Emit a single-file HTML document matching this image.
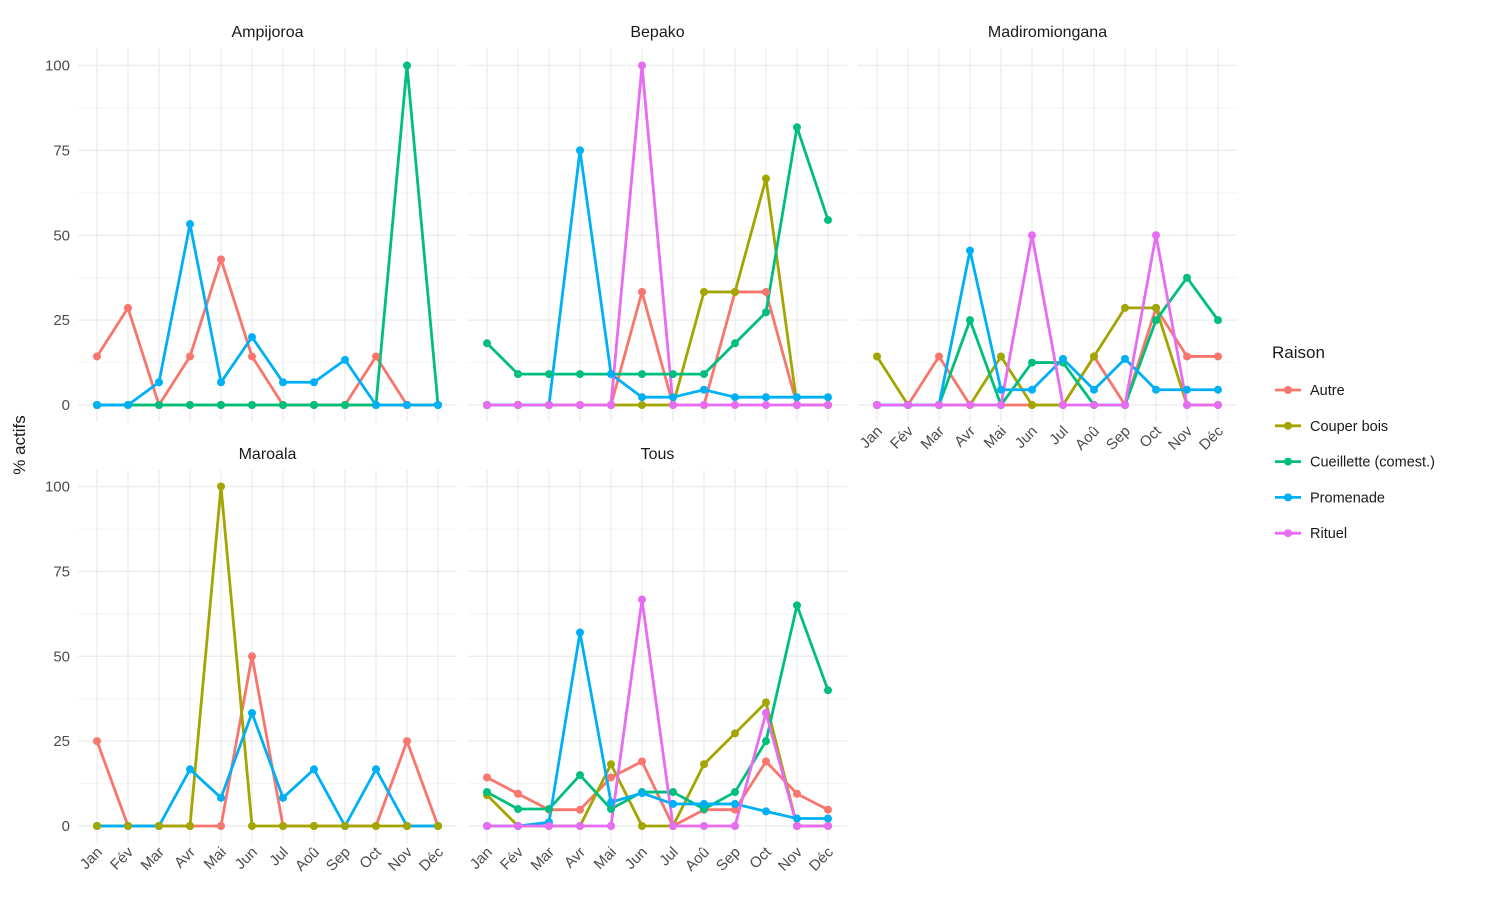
<!DOCTYPE html>
<html><head><meta charset="utf-8"><style>
body{margin:0;background:#fff;font-family:"Liberation Sans",Arial,sans-serif}
svg text{font-family:"Liberation Sans",Arial,sans-serif}
</style></head><body>
<svg id="c" width="1500" height="900" xmlns="http://www.w3.org/2000/svg"></svg>
<script>
const months=["Jan","Fév","Mar","Avr","Mai","Jun","Jul","Aoû","Sep","Oct","Nov","Déc"];
const seriesNames=["Autre","Couper bois","Cueillette (comest.)","Promenade","Rituel"];
const colors=["#F8766D","#A3A500","#00BF7D","#00B0F6","#E76BF3"];
const yTicks=[0,25,50,75,100];
const panelNames=["Ampijoroa","Bepako","Madiromiongana","Maroala","Tous"];
const ampAutre=[14.3,28.6,0,14.3,42.9,14.3,0,0,0,14.3,0,0];
const ampCouper=[0,0,0,0,0,0,0,0,0,0,0,0];
const ampCueil=[0,0,0,0,0,0,0,0,0,0,100,0];
const ampProm=[0,0,6.7,53.3,6.7,20,6.7,6.7,13.3,0,0,0];
const bepAutre=[0,0,0,0,0,33.3,0,0,33.3,33.3,0,0];
const bepCouper=[0,0,0,0,0,0,0,33.3,33.3,66.7,0,0];
const bepCueil=[18.2,9.1,9.1,9.1,9.1,9.1,9.1,9.1,18.2,27.3,81.8,54.5];
const bepProm=[0,0,0,75,9.1,2.3,2.3,4.5,2.3,2.3,2.3,2.3];
const bepRit=[0,0,0,0,0,100,0,0,0,0,0,0];
const madAutre=[0,0,14.3,0,0,0,0,14.3,0,28.6,14.3,14.3];
const madCouper=[14.3,0,0,0,14.3,0,0,14.3,28.6,28.6,0,0];
const madCueil=[0,0,0,25,0,12.5,12.5,0,0,25,37.5,25];
const madProm=[0,0,0,45.5,4.5,4.5,13.6,4.5,13.6,4.5,4.5,4.5];
const madRit=[0,0,0,0,0,50,0,0,0,50,0,0];
const marAutre=[25,0,0,0,0,50,0,0,0,0,25,0];
const marCouper=[0,0,0,0,100,0,0,0,0,0,0,0];
const marProm=[0,0,0,16.7,8.3,33.3,8.3,16.7,0,16.7,0,0];
const tousAutre=[14.3,9.5,4.8,4.8,14.3,19,0,4.8,4.8,19,9.5,4.8];
const tousCouper=[9.1,0,0,0,18.2,0,0,18.2,27.3,36.4,0,0];
const tousCueil=[10,5,5,15,5,10,10,5,10,25,65,40];
const tousProm=[0,0,1.1,57,7,9.7,6.5,6.5,6.5,4.3,2.2,2.2];
const tousRit=[0,0,0,0,0,66.7,0,0,0,33.3,0,0];
const panelData=[
 [ampAutre,ampCouper,ampCueil,ampProm,null],
 [bepAutre,bepCouper,bepCueil,bepProm,bepRit],
 [madAutre,madCouper,madCueil,madProm,madRit],
 [marAutre,marCouper,null,marProm,null],
 [tousAutre,tousCouper,tousCueil,tousProm,tousRit]];
const pointOrder=[[0,1,2,3,4],[0,1,2,3,4],[0,1,2,3,4],[0,3,1,2,4],[0,1,2,3,4]];
const svg=document.getElementById('c');
const NS="http://www.w3.org/2000/svg";
function mk(t,a,p){const e=document.createElementNS(NS,t);for(const k in a)e.setAttribute(k,a[k]);(p||svg).appendChild(e);return e;}
const layout=[{x0:97,y0:405,top:48},{x0:487,y0:405,top:48},{x0:877,y0:405,top:48},{x0:97,y0:826,top:470},{x0:487,y0:826,top:470}];
const dx=31, ky=3.395;
layout.forEach((L,pi)=>{
 const g=mk('g',{});
 
 
 const X=i=>L.x0+i*dx, Y=v=>L.y0-v*ky;
 const left=L.x0-19,right=L.x0+11*dx+19,top=L.top,bot=L.y0+17;
 for(let v=12.5;v<=100;v+=25)mk('line',{x1:left,x2:right,y1:Y(v),y2:Y(v),stroke:'#f4f4f4','stroke-width':1},g);
 yTicks.forEach(v=>{mk('line',{x1:left,x2:right,y1:Y(v),y2:Y(v),stroke:'#ebebeb','stroke-width':1.2},g);});
 months.forEach((m,i)=>mk('line',{x1:X(i),x2:X(i),y1:top,y2:bot,stroke:'#ebebeb','stroke-width':1.2},g));
 const st=mk('text',{x:(left+right)/2,y:L.top-11,'text-anchor':'middle','font-size':16,fill:'#1a1a1a'},g);
 st.textContent=panelNames[pi];
 
 
 if(pi==0||pi==3){yTicks.forEach(v=>{const t=mk('text',{x:L.x0-27,y:Y(v)+5,'text-anchor':'end','font-size':15,fill:'#4d4d4d'},g);t.textContent=v;
  
  });}
 if(pi>=2){months.forEach((m,i)=>{const t=mk('text',{x:X(i)+6,y:bot+10,'text-anchor':'end','font-size':15,fill:'#4d4d4d',transform:`rotate(-45 ${X(i)+6} ${bot+10})`},g);t.textContent=m;
  
  });}
 panelData[pi].forEach((arr,si)=>{
  if(!arr)return;
  const pl=mk('polyline',{points:arr.map((v,i)=>X(i)+','+Y(v)).join(' '),fill:'none',stroke:colors[si],'stroke-width':2.8,'stroke-linejoin':'round'},g);
  
  
 });
 pointOrder[pi].forEach(si=>{
  const arr=panelData[pi][si];
  if(!arr)return;
  arr.forEach((v,i)=>{const c=mk('circle',{cx:X(i),cy:Y(v),r:4,fill:colors[si]},g);
   
   });
 });
});
const yt=mk('text',{x:25,y:445,'text-anchor':'middle','font-size':17,fill:'#1a1a1a',transform:'rotate(-90 25 445)'});
yt.textContent='% actifs';


const lg=mk('g',{});


const lt=mk('text',{x:1272,y:358,'font-size':17,fill:'#1a1a1a'},lg);lt.textContent='Raison';


seriesNames.forEach((n,i)=>{const y=390+i*35.8;
 const e=mk('g',{},lg);
 
 
 mk('line',{x1:1275,x2:1301,y1:y,y2:y,stroke:colors[i],'stroke-width':2.8},e);
 mk('circle',{cx:1288,cy:y,r:4,fill:colors[i]},e);
 const t=mk('text',{x:1310,y:y+5,'font-size':14.5,fill:'#1a1a1a'},e);t.textContent=n;});
</script>
</body></html>
